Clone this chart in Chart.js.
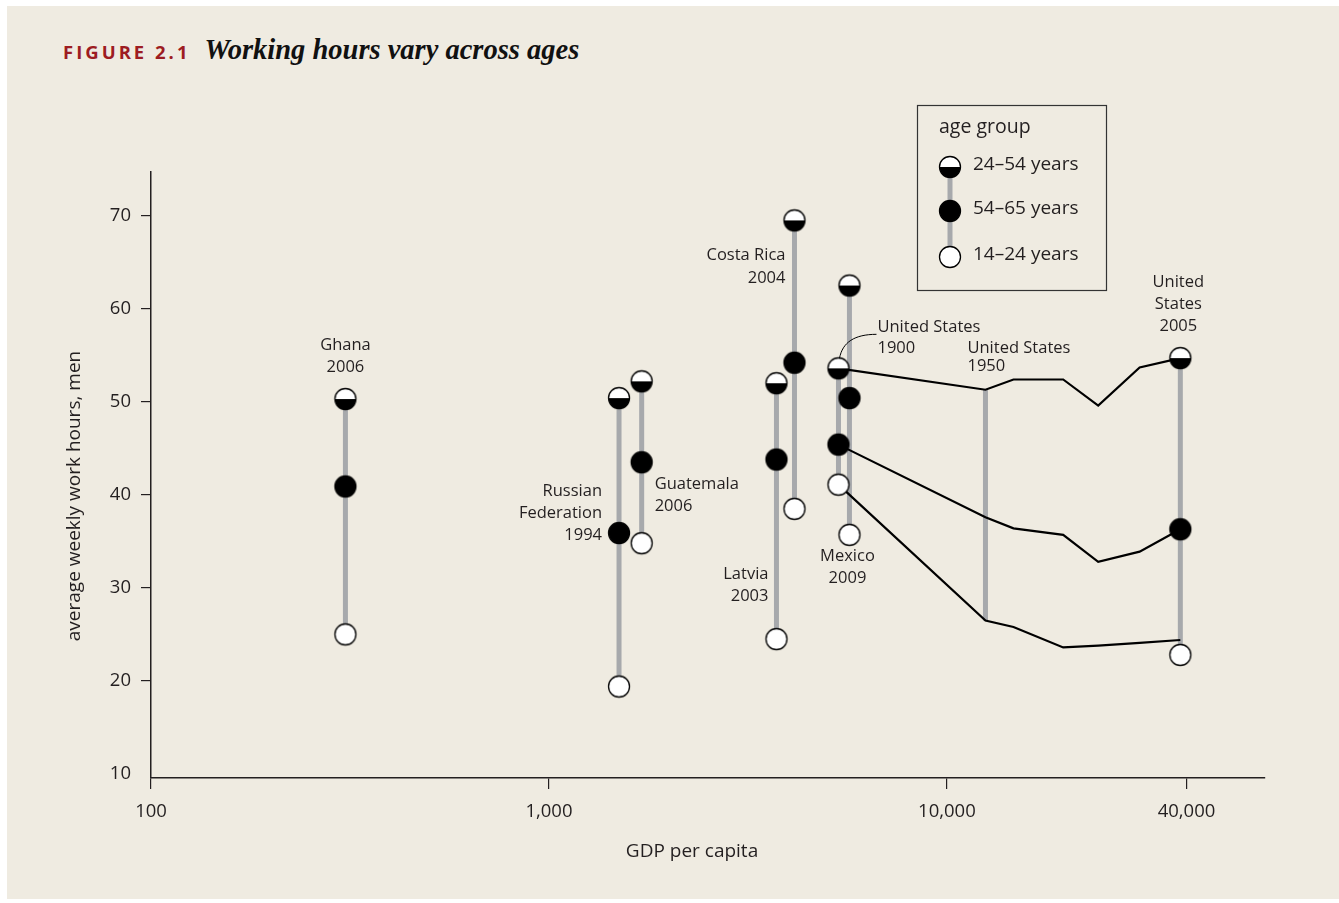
<!DOCTYPE html>
<html>
<head>
<meta charset="utf-8">
<script src="https://cdn.jsdelivr.net/npm/chart.js@4"></script>
<style>
  html, body { margin: 0; padding: 0; background: #ffffff; }
  #panel { position: absolute; left: 7px; top: 6px; width: 1332px; height: 893px; background: #efebe1; }
  #chart { position: absolute; left: 0; top: 0; }
  #title { position: absolute; left: 63px; top: 34px; white-space: nowrap; }
  #title .fig { font-family: "Open Sans", sans-serif; font-weight: 700; font-size: 18.5px; letter-spacing: 3px; color: #9d1c22; }
  #title .txt { font-family: "Liberation Serif", serif; font-style: italic; font-weight: 700; font-size: 28.5px; color: #111; margin-left: 14px; }
</style>
</head>
<body>
<div id="panel"></div>
<div id="title"><span class="fig">FIGURE 2.1</span><span class="txt">Working hours vary across ages</span></div>
<canvas id="chart" width="1339" height="903"></canvas>
<script>
// country observations (GDP per capita, avg weekly hours for men by age group)
const countries = ["Ghana\n2006", "Russian\nFederation\n1994", "Guatemala\n2006", "Latvia\n2003",
  "Costa Rica\n2004", "United States\n1900", "Mexico\n2009", "United\nStates\n2005"];
const gdp = [308, 1500, 1710, 3730, 4140, 5340, 5690, 38600];
const hours24to54 = [50.3, 50.4, 52.2, 52.0, 69.5, 53.6, 62.5, 54.7];
const hours54to65 = [40.9, 35.9, 43.5, 43.8, 54.2, 45.4, 50.4, 36.3];
const hours14to24 = [25.0, 19.4, 34.8, 24.5, 38.5, 41.1, 35.7, 22.8];

// United States over time (1900 ... 2005)
const usGdp = [5340, 12500, 14700, 19600, 24000, 30500, 38600];
const usTop = [53.6, 51.3, 52.4, 52.4, 49.6, 53.7, 54.7];
const usMid = [45.4, 37.6, 36.4, 35.7, 32.8, 33.9, 36.3];
const usLow = [41.1, 26.5, 25.8, 23.6, 23.8, 24.1, 24.4];
const us1950Label = "United States\n1950";

const xTicks = [100, 1000, 10000, 40000];
const yTicks = [10, 20, 30, 40, 50, 60, 70];
const legendItems = ["24\u201354 years", "54\u201365 years", "14\u201324 years"];

const GRAY = "#a7a9ac";
const INK = "#231f20";
const FONT = "'Open Sans', sans-serif";

// label placement relative to the top marker of each country (pixels)
const labelLayout = [
  { align: "center", dx: 0, dy: -54, lh: 22 },
  { align: "right", dx: -17, dy: 93, lh: 22 },
  { align: "left", dx: 13, dy: 103, lh: 22 },
  { align: "right", dx: -8, dy: 191, lh: 22 },
  { align: "right", dx: -9, dy: 35, lh: 23 },
  { align: "left", dx: 39, dy: -41, lh: 21 },
  { align: "center", dx: -2, dy: 271, lh: 22 },
  { align: "center", dx: -2, dy: -76, lh: 22 }
];

function makeMarker(kind) {
  const r = 10.5, s = 26, c = document.createElement("canvas");
  c.width = s; c.height = s;
  const g = c.getContext("2d");
  const m = s / 2;
  g.beginPath(); g.arc(m, m, r, 0, Math.PI * 2);
  g.fillStyle = kind === "mid" ? "#000" : "#fff"; g.fill();
  if (kind === "top") {
    g.beginPath(); g.arc(m, m, r, 0, Math.PI); g.closePath();
    g.fillStyle = "#000"; g.fill();
  }
  g.beginPath(); g.arc(m, m, r, 0, Math.PI * 2);
  g.lineWidth = 1.3; g.strokeStyle = "#000"; g.stroke();
  return c;
}
const markers = { top: makeMarker("top"), mid: makeMarker("mid"), low: makeMarker("low") };

const pts = (xs, ys) => xs.map((x, i) => ({ x: x, y: ys[i] }));

const datasets = [];
// markers on top
[["top", hours24to54], ["mid", hours54to65], ["low", hours14to24]].forEach(([k, arr]) => {
  datasets.push({ data: pts(gdp, arr), pointStyle: markers[k], pointRadius: 11, showLine: false, order: 0, clip: false });
});
// US trend lines
[usTop, usMid, usLow].forEach(arr => {
  datasets.push({ data: pts(usGdp, arr), showLine: true, borderColor: "#000", borderWidth: 2.2, pointRadius: 0, order: 1, tension: 0 });
});
// gray ranges
gdp.forEach((x, i) => {
  datasets.push({ data: [{ x: x, y: hours24to54[i] }, { x: x, y: hours14to24[i] }], showLine: true,
    borderColor: GRAY, borderWidth: 5, borderCapStyle: "butt", pointRadius: 0, order: 2 });
});
datasets.push({ data: [{ x: usGdp[1], y: usTop[1] }, { x: usGdp[1], y: usLow[1] }], showLine: true,
  borderColor: GRAY, borderWidth: 5, pointRadius: 0, order: 2 });

function drawLines(ctx, text, x, y, align, lh) {
  ctx.textAlign = align;
  text.split("\n").forEach((t, k) => ctx.fillText(t, x, y + k * lh));
}

const annotations = {
  id: "annotations",
  afterDatasetsDraw(chart) {
    const ctx = chart.ctx, xs = chart.scales.x, ys = chart.scales.y;
    ctx.save();
    ctx.fillStyle = INK;
    ctx.textBaseline = "middle";
    ctx.font = "16.5px " + FONT;
    countries.forEach((name, i) => {
      const L = labelLayout[i];
      const px = xs.getPixelForValue(gdp[i]), py = ys.getPixelForValue(hours24to54[i]);
      drawLines(ctx, name, px + L.dx, py + L.dy, L.align, L.lh);
    });
    const ux = xs.getPixelForValue(usGdp[1]), uy = ys.getPixelForValue(usTop[1]);
    drawLines(ctx, us1950Label, ux - 18, uy - 41, "left", 18);

    // leader line for United States 1900
    const lx = xs.getPixelForValue(gdp[5]), ly = ys.getPixelForValue(hours24to54[5]);
    ctx.beginPath();
    ctx.moveTo(lx + 1, ly - 10);
    ctx.bezierCurveTo(lx + 4, ly - 26, lx + 16, ly - 34, lx + 38, ly - 34);
    ctx.lineWidth = 1; ctx.strokeStyle = "#000"; ctx.stroke();

    // legend
    ctx.lineWidth = 1.2; ctx.strokeStyle = "#333";
    ctx.strokeRect(917.5, 105.5, 189, 185);
    ctx.font = "19.5px " + FONT;
    ctx.textAlign = "left";
    ctx.fillText("age group", 939, 127);
    const ly2 = [167, 211, 257];
    ctx.beginPath(); ctx.moveTo(950, ly2[0]); ctx.lineTo(950, ly2[2]);
    ctx.lineWidth = 5; ctx.strokeStyle = GRAY; ctx.stroke();
    ctx.font = "19px " + FONT;
    [markers.top, markers.mid, markers.low].forEach((m, k) => {
      ctx.drawImage(m, 950 - 13, ly2[k] - 13);
      ctx.fillText(legendItems[k], 973, ly2[k] - 2);
    });

    // axis titles
    ctx.font = "19px " + FONT;
    ctx.textAlign = "center";
    ctx.fillText("GDP per capita", 692, 852);
    ctx.translate(75, 496); ctx.rotate(-Math.PI / 2);
    ctx.fillText("average weekly work hours, men", 0, 0);
    ctx.restore();
  }
};

new Chart(document.getElementById("chart"), {
  type: "scatter",
  data: { datasets: datasets },
  options: {
    responsive: false,
    animation: false,
    layout: { padding: { left: 0, top: 172, right: 74, bottom: 0 } },
    plugins: { legend: { display: false }, tooltip: { enabled: false } },
    scales: {
      x: {
        type: "logarithmic", min: 100, max: 63000,
        afterFit: s => { s.height = 125; },
        afterBuildTicks: s => { s.ticks = xTicks.map(v => ({ value: v })); },
        ticks: { autoSkip: false, maxRotation: 0, padding: 12, color: INK, font: { family: FONT, size: 18.5 },
          callback: v => Number(v).toLocaleString("en-US") },
        grid: { drawOnChartArea: false, drawTicks: true, tickLength: 11, color: INK, lineWidth: 1.2 },
        border: { display: true, color: INK, width: 1.5 }
      },
      y: {
        min: 9.57, max: 74.7,
        afterFit: s => { s.width = 151; },
        afterBuildTicks: s => { s.ticks = yTicks.map(v => ({ value: v })); },
        ticks: { padding: 10, color: INK, font: { family: FONT, size: 18.5 } },
        grid: { drawOnChartArea: false, drawTicks: true, tickLength: 10, lineWidth: 1.2,
          color: c => (c.tick && c.tick.value === yTicks[0] ? "rgba(0,0,0,0)" : INK) },
        border: { display: true, color: INK, width: 1.5 }
      }
    }
  },
  plugins: [annotations]
});
</script>
</body>
</html>
